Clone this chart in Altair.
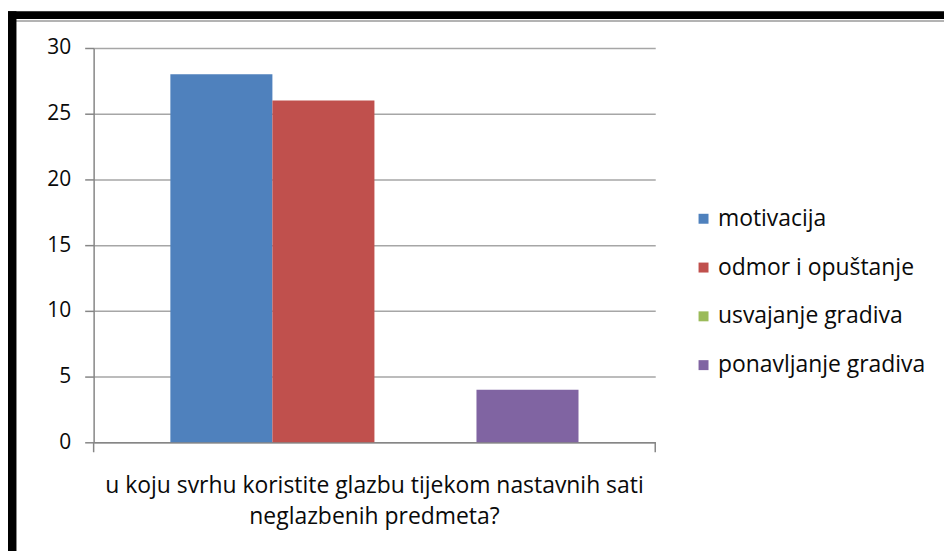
import altair as alt
import pandas as pd

question = "u koju svrhu koristite glazbu tijekom nastavnih sati\nneglazbenih predmeta?"
series = ["motivacija", "odmor i opuštanje", "usvajanje gradiva", "ponavljanje gradiva"]
values = [28, 26, 0, 4]
colors = ["#4F81BD", "#C0504D", "#9BBB59", "#8064A2"]
y_ticks = [0, 5, 10, 15, 20, 25, 30]

df = pd.DataFrame({"q": [question] * len(series), "series": series, "value": values})

W, H = 564, 396
FONT = "Open Sans"
GRID = "#a6a6a6"
AXIS = "#868686"
TXT = "#0a0a0a"

bars = alt.Chart(df).mark_bar(stroke=None).encode(
    x=alt.X("q:N", scale=alt.Scale(paddingOuter=0.188, paddingInner=0),
            axis=alt.Axis(title=None, labelExpr="split(datum.value, '\\n')", labelAngle=0,
                          labelAlign="center", labelBaseline="top", labelPadding=32,
                          labelLimit=800, labelFontSize=23, labelLineHeight=32,
                          labelColor=TXT, labelFont=FONT, ticks=False,
                          domainColor=AXIS, domainWidth=1.5)),
    xOffset=alt.XOffset("series:N", sort=series, scale=alt.Scale(paddingInner=0, paddingOuter=0)),
    y=alt.Y("value:Q", scale=alt.Scale(domain=[0, 30], nice=False),
            axis=alt.Axis(title=None, values=y_ticks, tickSize=9, tickColor=AXIS, tickWidth=1.5,
                          domainColor=AXIS, domainWidth=1.5, gridColor=GRID, gridWidth=1.5,
                          labelFontSize=21, labelColor=TXT, labelFont=FONT, labelPadding=14)),
    color=alt.Color("series:N", sort=series, scale=alt.Scale(domain=series, range=colors),
                    legend=alt.Legend(title=None, orient="none", legendX=601, legendY=160,
                                      symbolType="square", symbolSize=100, symbolStrokeWidth=0,
                                      labelFontSize=23, labelFont=FONT, labelColor=TXT,
                                      labelOffset=3, rowPadding=25, labelLimit=400)),
)

one = alt.Chart(pd.DataFrame({"a": [0]}))
edge_ticks = alt.layer(
    one.mark_rule(color=AXIS, strokeWidth=1.5).encode(x=alt.value(0), y=alt.value(H), y2=alt.value(H + 10)),
    one.mark_rule(color=AXIS, strokeWidth=1.5).encode(x=alt.value(W), y=alt.value(H), y2=alt.value(H + 10)),
)
frame = alt.layer(
    one.mark_rule(color="#9a9a9a", strokeWidth=1.5).encode(x=alt.value(-78), x2=alt.value(880), y=alt.value(-27)),
    one.mark_rule(color="black", strokeWidth=8).encode(x=alt.value(-90), x2=alt.value(880), y=alt.value(-33)),
    one.mark_rule(color="black", strokeWidth=9).encode(x=alt.value(-82), y=alt.value(-37), y2=alt.value(H + 120)),
)

chart = alt.layer(bars, edge_ticks, frame).properties(
    width=W, height=H,
    autosize=alt.AutoSizeParams(type="none"),
    padding={"left": 86, "top": 39, "right": 290, "bottom": 108},
).configure_view(stroke=None)

chart.save("out.html", embed_options={"renderer": "svg", "actions": False})
